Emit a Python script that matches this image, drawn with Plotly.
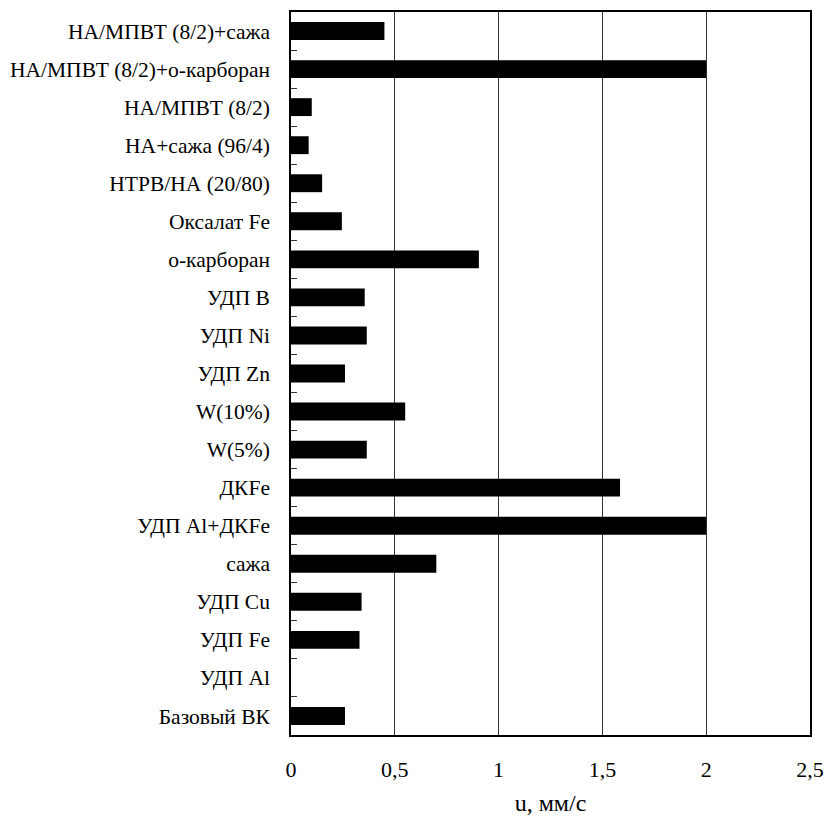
import plotly.graph_objects as go

categories = [
    "НА/МПВТ (8/2)+сажа",
    "НА/МПВТ (8/2)+о-карборан",
    "НА/МПВТ (8/2)",
    "НА+сажа (96/4)",
    "НТРВ/НА (20/80)",
    "Оксалат Fe",
    "о-карборан",
    "УДП B",
    "УДП Ni",
    "УДП Zn",
    "W(10%)",
    "W(5%)",
    "ДКFe",
    "УДП Al+ДКFe",
    "сажа",
    "УДП Cu",
    "УДП Fe",
    "УДП Al",
    "Базовый ВК",
]
values = [0.45, 2.0, 0.10, 0.085, 0.15, 0.245, 0.905, 0.355, 0.365, 0.26,
          0.55, 0.365, 1.585, 2.0, 0.70, 0.34, 0.33, 0.0, 0.26]

x_tickvals = [0, 0.5, 1, 1.5, 2, 2.5]
x_ticktext = ["0", "0,5", "1", "1,5", "2", "2,5"]
x_title = "u, мм/с"

font_family = "Liberation Serif"

fig = go.Figure(go.Bar(
    x=values, y=categories, orientation="h",
    marker=dict(color="black", line=dict(width=0)),
    width=0.47,
))

fig.update_layout(
    width=828, height=816,
    margin=dict(l=291, r=18, t=12, b=81, autoexpand=False),
    paper_bgcolor="white", plot_bgcolor="white",
    font=dict(family=font_family, size=21, color="black"),
    showlegend=False,
)
fig.update_xaxes(
    range=[0, 2.5], tickvals=x_tickvals, ticktext=x_ticktext,
    tickfont=dict(size=22),
    showgrid=True, gridcolor="#333333", gridwidth=1,
    showline=True, linecolor="black", linewidth=1.5, mirror=True,
    ticks="", ticklabelstandoff=14, automargin=False,
    zeroline=False,
    title=dict(text=x_title, font=dict(size=24), standoff=29),
)
fig.update_yaxes(
    autorange="reversed", type="category",
    tickfont=dict(size=21.5),
    showgrid=False, automargin=False,
    showline=True, linecolor="black", linewidth=1.5, mirror=True,
    ticks="inside", tickson="boundaries", ticklen=6, tickcolor="#333333",
    ticklabelstandoff=15,
)

fig.write_html(
    "out.html",
    config={"displayModeBar": False},
    post_script="document.body.style.margin='0';document.body.style.overflow='hidden';",
)
